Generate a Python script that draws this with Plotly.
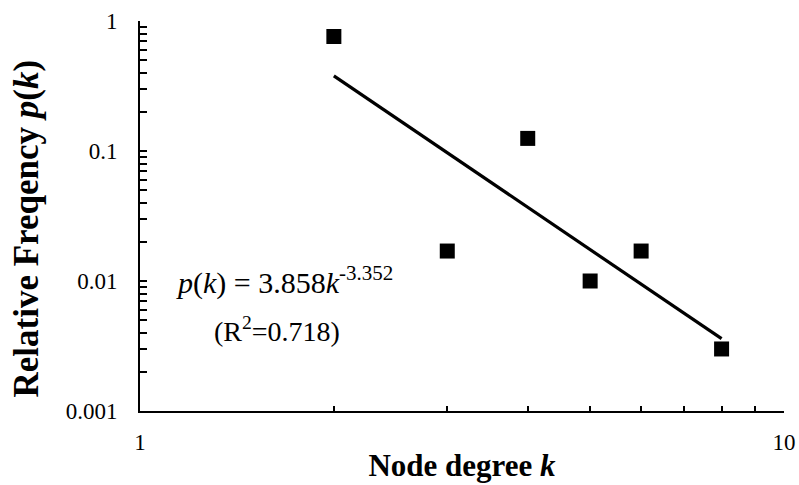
import plotly.graph_objects as go

# Data
node_degree = [2, 3, 4, 5, 6, 8]
rel_freq = [0.76, 0.017, 0.125, 0.01, 0.017, 0.003]

# Power-law trend line endpoints
trend_k = [2, 8]
trend_p = [0.378, 0.0036]

x_tickvals = [1, 2, 3, 4, 5, 6, 7, 8, 9, 10]
x_ticktext = ["1", "", "", "", "", "", "", "", "", "10"]
y_tickvals = [0.001 * m for m in range(1, 10)] + [0.01 * m for m in range(1, 10)] + [0.1 * m for m in range(1, 10)] + [1]
y_ticktext = ["0.001"] + [""] * 8 + ["0.01"] + [""] * 8 + ["0.1"] + [""] * 8 + ["1"]

FONT = "Liberation Serif"

fig = go.Figure()
fig.add_trace(go.Scatter(
    x=trend_k, y=trend_p, mode="lines",
    line=dict(color="black", width=3.2),
    showlegend=False, hoverinfo="skip",
))
fig.add_trace(go.Scatter(
    x=node_degree, y=rel_freq, mode="markers",
    marker=dict(symbol="square", size=15, color="black"),
    showlegend=False,
))

fig.update_layout(
    width=799, height=485,
    paper_bgcolor="white", plot_bgcolor="white",
    margin=dict(l=140, r=15, t=21, b=74),
    font=dict(family=FONT, color="black", size=23),
    xaxis=dict(
        type="log", range=[0, 1],
        tickvals=x_tickvals, ticktext=x_ticktext,
        ticks="inside", ticklen=5, tickwidth=1.5, tickcolor="black",
        showline=True, linecolor="black", linewidth=2,
        showgrid=False, zeroline=False,
        ticklabelstandoff=9,
        tickfont=dict(family=FONT, size=23),
        title=dict(text="<b>Node degree <i>k</i></b>", font=dict(family=FONT, size=31), standoff=1),
        automargin=False,
    ),
    yaxis=dict(
        type="log", range=[-3, 0],
        tickvals=y_tickvals, ticktext=y_ticktext,
        ticks="inside", ticklen=7, tickwidth=1.5, tickcolor="black",
        showline=True, linecolor="black", linewidth=2,
        showgrid=False, zeroline=False,
        ticklabelstandoff=16,
        tickfont=dict(family=FONT, size=23),
        automargin=False,
    ),
    annotations=[
        dict(x=-0.1755, y=0.468, xref="paper", yref="paper", showarrow=False,
             textangle=-90, xanchor="center", yanchor="middle",
             text="<b>Relative Freqency <i>p</i>(<i>k</i>)</b>",
             font=dict(family=FONT, size=35, color="black")),
        dict(x=0.225, y=-1.995, xref="x", yref="y", showarrow=False,
             text="<i>p</i>(<i>k</i>) = 3.858<i>k</i><sup>-3.352</sup>",
             font=dict(family=FONT, size=30, color="black")),
        dict(x=0.213, y=-2.37, xref="x", yref="y", showarrow=False,
             text="(R<sup>2</sup>=0.718)",
             font=dict(family=FONT, size=28, color="black")),
    ],
)

fig.write_html("out.html", post_script="document.body.style.margin='0';",
               config={"displayModeBar": False})
